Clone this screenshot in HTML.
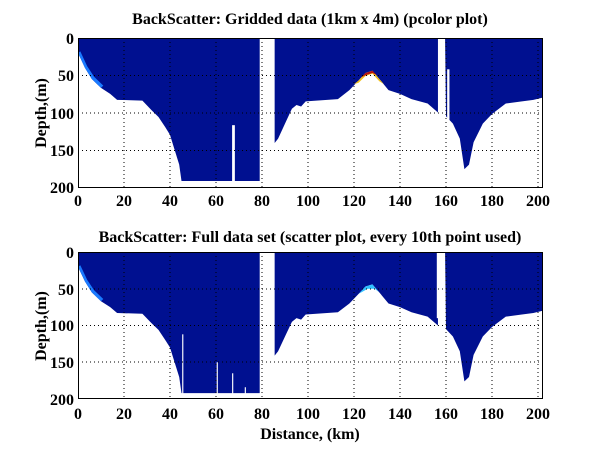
<!DOCTYPE html>
<html><head><style>
body{margin:0;background:#fff;}
svg{display:block;font-family:"Liberation Serif",serif;font-weight:bold;}
</style></head><body>
<svg width="600" height="451" viewBox="0 0 600 451" xmlns="http://www.w3.org/2000/svg">
<defs>
<g id="prof">
<polygon points="0,0 0,20 3,40 6,55 10,67 14,75 17,83 28,84 32,97 35,106 38,120 40,130 42,150 44,170 45,192 79,192 79,0" />
<polygon points="85.5,0 85.5,141 87,135 90,115 93,95 95,90 97,92 99,85 113,82 118,70 122,57 125,47 128,44 131,55 135,70 140,75 145,82 152,88 156.5,100 156.5,0" />
<polygon points="159.6,0 160,105 163,115 166,135 168,176 170,170 172,140 176,115 180,102 186,88 193,85 198,83 202,80 202,0" />
</g>
</defs>
<text x="310" y="24" font-size="16" text-anchor="middle">BackScatter: Gridded data (1km x 4m) (pcolor plot)</text>
<text x="310" y="242" font-size="16" text-anchor="middle">BackScatter: Full data set (scatter plot, every 10th point used)</text>

<g transform="translate(78,38) scale(2.3,0.745)" fill="#001090">
<use href="#prof"/>
<rect x="67" y="117" width="1.2" height="76" fill="#fff"/>
<rect x="160.5" y="42" width="1" height="68" fill="#fff"/>
<polygon points="0,20 3,40 6,55 10,67 11,64 7,52 4,38 1,18" fill="#1a7aff"/>
<polygon points="120,62 122,57 125,47 128,44 131,55 133,62 131,58 128,48 125,51 122,60" fill="#f0c020"/>
<polygon points="123,53 125,47 128,44 130,50 128,47 125,50" fill="#b01010"/>
</g>
<g transform="translate(78,252) scale(2.3,0.735)" fill="#001090">
<use href="#prof"/>
<rect x="45.3" y="112" width="0.5" height="81" fill="#fff"/>
<rect x="60.3" y="150" width="0.5" height="43" fill="#fff"/>
<rect x="67" y="165" width="0.5" height="28" fill="#fff"/>
<rect x="72.5" y="184" width="0.5" height="9" fill="#fff"/>
<rect x="156" y="0" width="2" height="90" fill="#fff"/>
<polygon points="0,20 3,40 6,55 10,67 11,64 7,52 4,38 1,18" fill="#1a7aff"/>
<polygon points="122,57 125,47 128,44 131,55 129,50 126,50" fill="#30c0ff"/>
</g>

<g stroke="#000" stroke-width="1" fill="none">
<g stroke-dasharray="1,3">
<path d="M124,38V188M170,38V188M216,38V188M262,38V188M308,38V188M354,38V188M400,38V188M446,38V188M492,38V188M538,38V188"/>
<path d="M78,75.5H543M78,113H543M78,150.5H543"/>
<path d="M124,252V399M170,252V399M216,252V399M262,252V399M308,252V399M354,252V399M400,252V399M446,252V399M492,252V399M538,252V399"/>
<path d="M78,289H543M78,325.5H543M78,362H543"/>
</g>
<rect x="78.5" y="38.5" width="464" height="149"/>
<rect x="78.5" y="252.5" width="464" height="146"/>
</g>

<g font-size="16" text-anchor="middle">
<text x="78" y="206">0</text><text x="124" y="206">20</text><text x="170" y="206">40</text><text x="216" y="206">60</text><text x="262" y="206">80</text><text x="308" y="206">100</text><text x="354" y="206">120</text><text x="400" y="206">140</text><text x="446" y="206">160</text><text x="492" y="206">180</text><text x="538" y="206">200</text>
<text x="78" y="419">0</text><text x="124" y="419">20</text><text x="170" y="419">40</text><text x="216" y="419">60</text><text x="262" y="419">80</text><text x="308" y="419">100</text><text x="354" y="419">120</text><text x="400" y="419">140</text><text x="446" y="419">160</text><text x="492" y="419">180</text><text x="538" y="419">200</text>
</g>
<g font-size="16" text-anchor="end">
<text x="74" y="44">0</text><text x="74" y="81">50</text><text x="74" y="119">100</text><text x="74" y="156">150</text><text x="74" y="193">200</text>
<text x="74" y="258">0</text><text x="74" y="295">50</text><text x="74" y="331">100</text><text x="74" y="368">150</text><text x="74" y="405">200</text>
</g>
<text x="310" y="439" font-size="16" text-anchor="middle">Distance, (km)</text>
<text transform="translate(46,113) rotate(-90)" font-size="16" text-anchor="middle">Depth,(m)</text>
<text transform="translate(46,326) rotate(-90)" font-size="16" text-anchor="middle">Depth,(m)</text>
</svg>
</body></html>
